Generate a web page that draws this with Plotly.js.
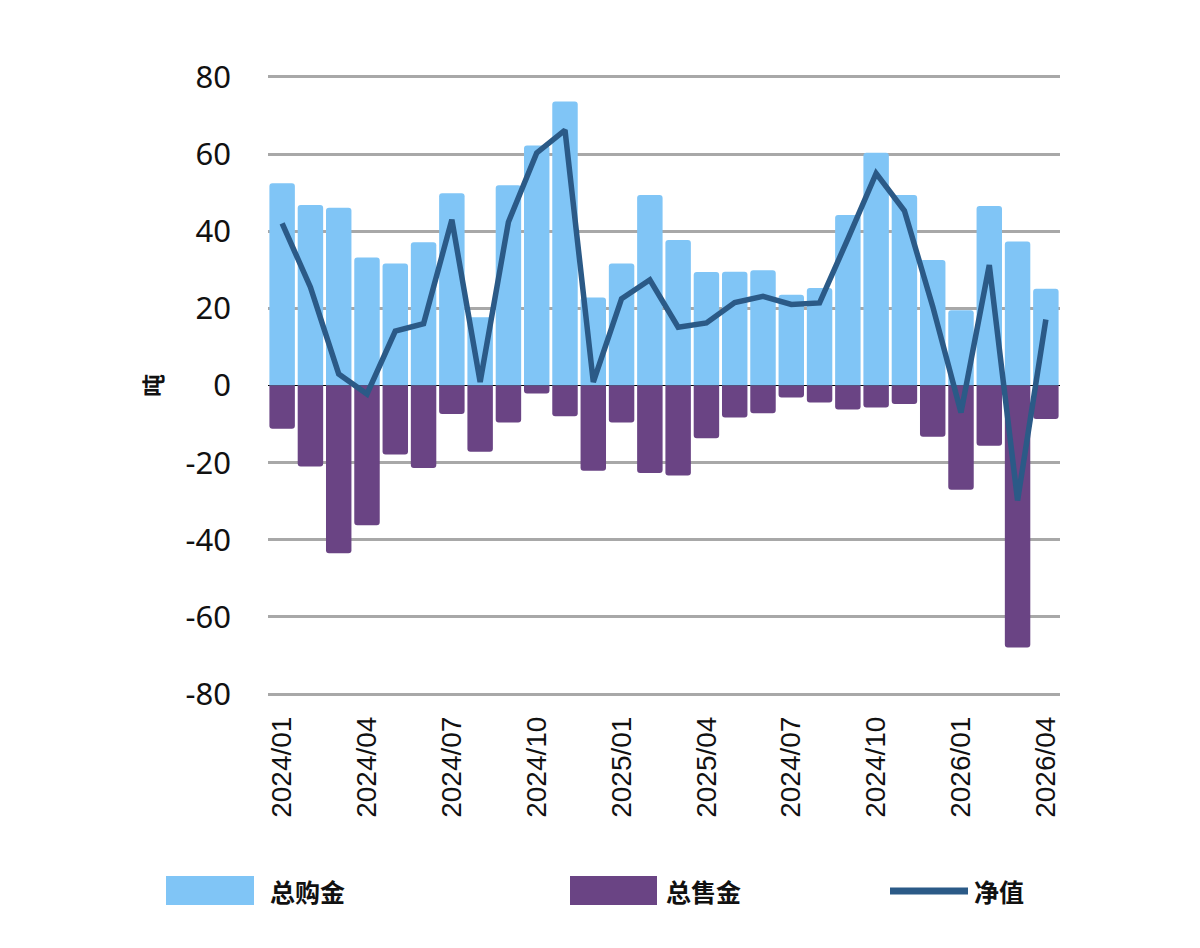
<!DOCTYPE html>
<html>
<head>
<meta charset="utf-8">
<script src="https://cdn.plot.ly/plotly-3.0.1.min.js"></script>
<style>html,body{margin:0;padding:0;background:#fff;}#chart{width:1200px;height:948px;}</style>
</head>
<body>
<div id="chart"></div>
<script>
// Data
const months = ["2024/01","2024/02","2024/03","2024/04","2024/05","2024/06","2024/07","2024/08","2024/09","2024/10","2024/11","2024/12",
  "2025/01","2025/02","2025/03","2025/04","2025/05","2025/06","2025/07","2025/08","2025/09","2025/10","2025/11","2025/12",
  "2026/01","2026/02","2026/03","2026/04"];
const totalBuy = [52.4,46.8,46.1,33.2,31.6,37.1,49.8,17.7,51.9,62.2,73.6,22.8,31.6,49.4,37.7,29.4,29.5,29.9,23.5,25.3,44.2,60.3,49.4,32.5,19.5,46.5,37.3,25.1];
const totalSell = [-11.2,-21.0,-43.5,-36.2,-17.9,-21.4,-7.4,-17.2,-9.6,-2.1,-8.0,-22.1,-9.6,-22.7,-23.3,-13.7,-8.3,-7.2,-3.1,-4.4,-6.2,-5.7,-4.8,-13.3,-27.0,-15.6,-67.9,-8.7];
const netValue = [42.0,25.5,3.0,-2.2,14.1,16.0,43.0,0.9,42.4,60.3,66.2,0.9,22.5,27.4,15.1,16.2,21.5,23.1,21.0,21.4,38.0,55.0,45.3,20.5,-7.0,31.2,-29.8,17.1];
const tickCats = ["2024/01","2024/04","2024/07","2024/10","2025/01","2025/04","2025/07","2025/10","2026/01","2026/04"];
const tickLabels = ["2024/01","2024/04","2024/07","2024/10","2025/01","2025/04","2024/07","2024/10","2026/01","2026/04"];
const seriesNames = ["总购金","总售金","净值"];
const yTicks = [-80,-60,-40,-20,0,20,40,60,80];
const yTickLabels = ["-80","-60","-40","-20","0","20","40","60","80"];
const yUnit = "吨";

const cBuy = "#80C5F6", cSell = "#6A4484", cNet = "#2B5A87";

const traces = [
  {type:"bar", x:months, y:totalBuy, name:seriesNames[0], marker:{color:cBuy}, showlegend:false, hoverinfo:"x+y"},
  {type:"bar", x:months, y:totalSell, name:seriesNames[1], marker:{color:cSell}, showlegend:false, hoverinfo:"x+y"},
  {type:"scatter", mode:"lines", x:months, y:netValue, name:seriesNames[2], line:{color:cNet, width:5.5}, showlegend:false}
];

// plot area: y=+81 at 73px, y=-81 at 698px (so the ±80 gridlines sit at 77 / 694)
const ML = 268, MR = 140, MT = 73, MB = 250, W = 1200, H = 948;
const pw = W - ML - MR, ph = H - MT - MB;
const px = v => (v - ML) / pw;
const py = v => (H - MB - v) / ph;

const legFont = {family:"Noto Sans CJK SC", size:25, color:"#111"};
const shapes = [
  {type:"rect", xref:"paper", yref:"paper", x0:px(166), x1:px(254), y0:py(905), y1:py(876), fillcolor:cBuy, line:{width:0}, layer:"above"},
  {type:"rect", xref:"paper", yref:"paper", x0:px(570), x1:px(657), y0:py(905), y1:py(876), fillcolor:cSell, line:{width:0}, layer:"above"},
  {type:"line", xref:"paper", yref:"paper", x0:px(890), x1:px(968), y0:py(891), y1:py(891), line:{color:cNet, width:7}, layer:"above"}
];
const annotations = [
  {xref:"paper", yref:"paper", x:px(268), y:py(891), xanchor:"left", yanchor:"middle", text:"<b>"+seriesNames[0]+"</b>", showarrow:false, font:legFont},
  {xref:"paper", yref:"paper", x:px(664), y:py(891), xanchor:"left", yanchor:"middle", text:"<b>"+seriesNames[1]+"</b>", showarrow:false, font:legFont},
  {xref:"paper", yref:"paper", x:px(972), y:py(891), xanchor:"left", yanchor:"middle", text:"<b>"+seriesNames[2]+"</b>", showarrow:false, font:legFont}
];

const layout = {
  width:W, height:H,
  margin:{l:ML, r:MR, t:MT, b:MB},
  paper_bgcolor:"#fff", plot_bgcolor:"#fff",
  font:{family:"Noto Sans, Noto Sans CJK SC", color:"#111"},
  barmode:"relative",
  bargap:0.1,
  barcornerradius:3,
  showlegend:false,
  xaxis:{
    type:"category",
    categoryorder:"array", categoryarray:months,
    tickmode:"array", tickvals:tickCats, ticktext:tickLabels,
    tickangle:-90,
    tickfont:{family:"Liberation Sans, Arial", size:28, color:"#111"},
    showgrid:false, zeroline:false, showline:false,
    ticks:"", ticklabelstandoff:12,
    automargin:false
  },
  yaxis:{
    range:[-81,81],
    tickmode:"array", tickvals:yTicks, ticktext:yTickLabels,
    tickfont:{family:"Noto Sans", size:31, color:"#111"},
    showgrid:true, gridcolor:"#A8A8A8", gridwidth:3,
    zeroline:true, zerolinecolor:"#000", zerolinewidth:1.2,
    showline:false, ticks:"", ticklabelstandoff:36,
    title:{text:"<b>"+yUnit+"</b>", font:{family:"Noto Sans CJK SC", size:23, color:"#111"}, standoff:16},
    automargin:false
  },
  shapes:shapes,
  annotations:annotations
};

Plotly.newPlot("chart", traces, layout, {displayModeBar:false, staticPlot:true});
</script>
</body>
</html>
